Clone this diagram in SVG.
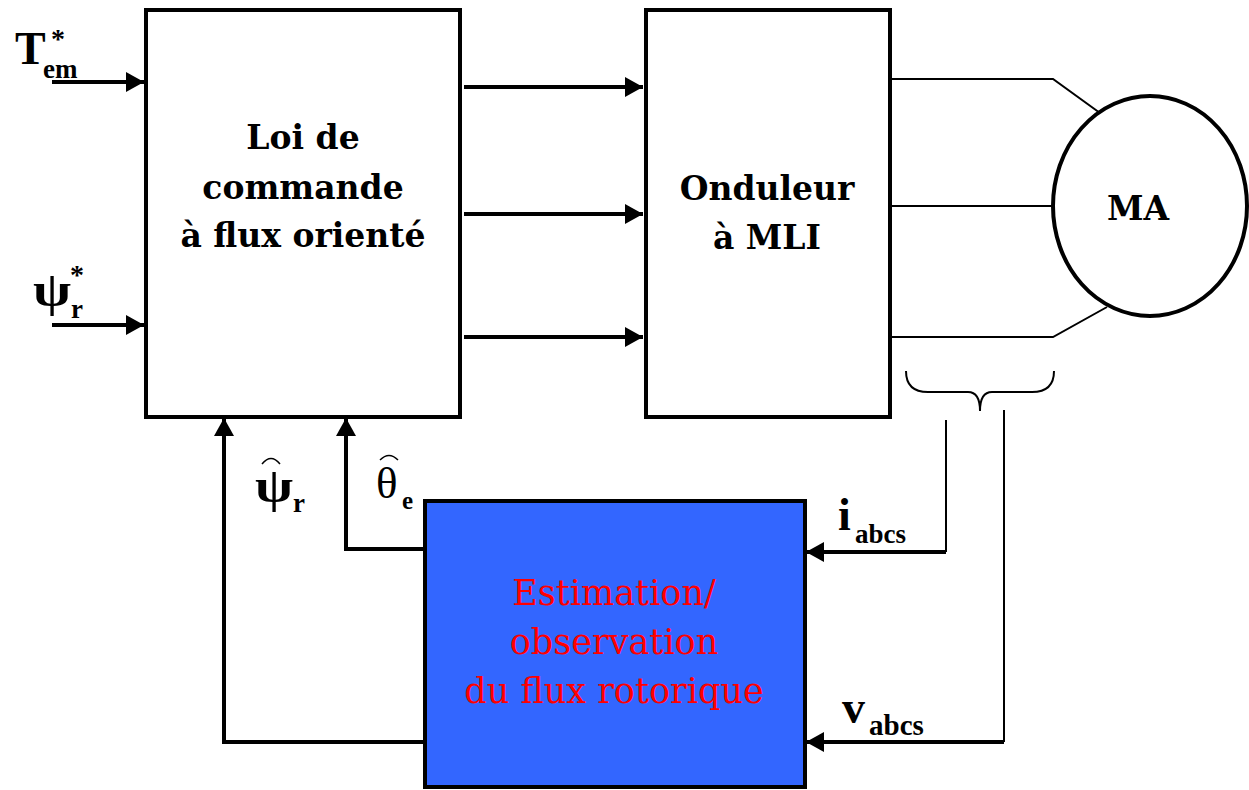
<svg xmlns="http://www.w3.org/2000/svg" width="1249" height="790" viewBox="0 0 1249 790">
<style>
.box{fill:#fff;stroke:#000;stroke-width:4}
.lbl{font-family:"Liberation Serif","DejaVu Serif",serif;font-weight:bold;fill:#000}
.gk{font-family:"Liberation Serif","DejaVu Serif",serif;font-weight:normal;fill:#000}
.blk{font-family:"DejaVu Serif","Liberation Serif",serif;font-weight:bold;font-size:33px;fill:#000;text-anchor:middle}
.w{fill:none;stroke:#000;stroke-width:4}
.t{fill:none;stroke:#000;stroke-width:2}
</style>
<defs>
<marker id="ah" markerWidth="20" markerHeight="20" refX="18" refY="10" orient="auto" markerUnits="userSpaceOnUse">
<path d="M0,0 L18,10 L0,20 Z" fill="#000"/>
</marker>
</defs>
<rect width="1249" height="790" fill="#fff"/>
<g id="connectors">
<line class="w" x1="52" y1="82" x2="144" y2="82" marker-end="url(#ah)"/>
<line class="w" x1="52" y1="325" x2="144" y2="325" marker-end="url(#ah)"/>
<line class="w" x1="464" y1="87" x2="643" y2="87" marker-end="url(#ah)"/>
<line class="w" x1="464" y1="214" x2="643" y2="214" marker-end="url(#ah)"/>
<line class="w" x1="464" y1="337" x2="643" y2="337" marker-end="url(#ah)"/>
<polyline class="t" points="890,79 1053,79 1100,113"/>
<line class="t" x1="890" y1="206" x2="1052" y2="206"/>
<polyline class="t" points="890,337 1053,337 1107,307"/>
<path class="t" d="M906,371 Q906,392 928,392 L968,392 Q980,392 980,411 Q980,392 992,392 L1032,392 Q1054,392 1054,371" stroke-width="2.5"/>
<polyline class="t" points="946,420 946,552" stroke-width="3"/>
<line class="w" x1="946" y1="552" x2="806" y2="552" marker-end="url(#ah)"/>
<polyline class="t" points="1004,410 1004,742" stroke-width="3"/>
<line class="w" x1="1004" y1="742" x2="806" y2="742" marker-end="url(#ah)"/>
<polyline class="w" points="424,549 346,549 346,418" marker-end="url(#ah)" stroke-width="3"/>
<polyline class="w" points="424,742 224,742 224,418" marker-end="url(#ah)" stroke-width="3"/>
</g>
<g id="node-commande">
<rect class="box" x="146" y="10" width="314" height="407"/>
<text class="blk" x="303" y="149">Loi de</text>
<text class="blk" x="303" y="199">commande</text>
<text class="blk" x="303" y="247">à flux orienté</text>
</g>
<g id="node-onduleur">
<rect class="box" x="646" y="10" width="244" height="407"/>
<text class="blk" x="767" y="200">Onduleur</text>
<text class="blk" x="767" y="249">à MLI</text>
</g>
<g id="node-ma">
<ellipse cx="1150" cy="206" rx="97" ry="110" fill="#fff" stroke="#000" stroke-width="4"/>
<text class="blk" x="1138" y="220" font-size="34">MA</text>
</g>
<g id="node-estimation">
<rect x="425" y="501" width="380" height="286" fill="#3366ff" stroke="#000" stroke-width="4"/>
<g font-family="'DejaVu Serif','Liberation Serif',serif" font-size="35" fill="#ff0000" text-anchor="middle">
<text x="614" y="605">Estimation/</text>
<text x="614" y="654">observation</text>
<text x="614" y="703">du flux rotorique</text>
</g>
</g>
<g id="labels">
<text class="lbl" x="15" y="64" font-size="46">T</text>
<text class="lbl" x="51" y="48" font-size="28">*</text>
<text class="lbl" x="43" y="78" font-size="27">em</text>
<text class="lbl" transform="translate(33,306) scale(1.15,1)" font-size="48">ψ</text>
<text class="lbl" x="70" y="284" font-size="28">*</text>
<text class="lbl" x="71" y="318" font-size="27">r</text>
<text class="lbl" transform="translate(255,502) scale(1.15,1)" font-size="48">ψ</text>
<path d="M262,464 Q271,453 280,464" fill="none" stroke="#000" stroke-width="1.5"/>
<text class="lbl" x="293" y="512" font-size="27">r</text>
<text class="gk" x="376" y="498" font-size="45">θ</text>
<path d="M380,460 Q389,451 398,460" fill="none" stroke="#000" stroke-width="1.5"/>
<text class="lbl" x="402" y="509" font-size="25">e</text>
<text class="lbl" x="838" y="530" font-size="46">i</text>
<text class="lbl" x="855" y="543" font-size="27">abcs</text>
<text class="lbl" x="842" y="723" font-size="46">v</text>
<text class="lbl" x="869" y="735" font-size="29">abcs</text>
</g>
</svg>
